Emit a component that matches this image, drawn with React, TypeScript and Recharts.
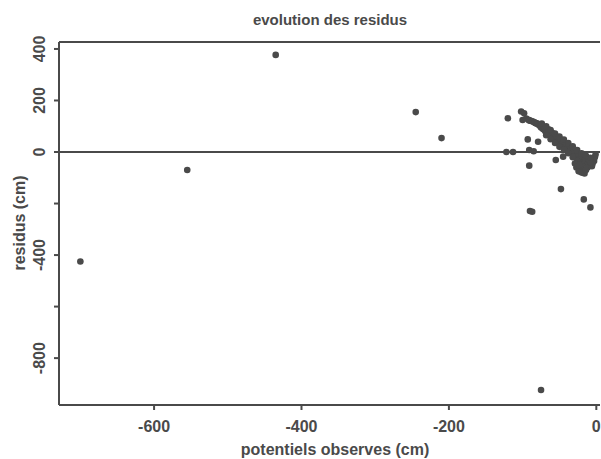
import React from 'react';
import {
  ScatterChart,
  Scatter,
  XAxis,
  YAxis,
  ReferenceLine,
} from 'recharts';

// observed potentials (cm)
const observed = [
  -700, -555, -435, -245, -210, -75, -90, -87,
  -122, -113, -91, -85, -120, -102, -98, -100, -91, -82, -93, -79,
  -91, -55, -45, -48, -17, -8,
  -95, -92, -90, -88, -86, -84, -82, -80, -78, -76, -75, -73, -72, -70, -69, -67, -66, -64,
  -63, -61, -60, -58, -57, -55, -54, -52, -51, -49, -48, -46, -45, -43, -42, -40, -39, -37,
  -36, -34, -33, -31, -30, -28, -27, -25, -24, -22, -21, -19, -18, -16, -14, -12, -10, -8,
  -6, -5, -3,
  -70, -65, -60, -55, -50, -45, -40, -35, -30, -25, -20, -15, -10,
  -68, -62, -56, -50, -44, -38, -32, -26, -20, -18, -16, -22, -12, -8, -4, -2, -1,
  -27, -24, -20, -14, -29, -23,
  -74, -68, -62, -56, -50, -44, -38, -32, -26, -20, -14, -8,
];

// residuals (cm)
const residuals = [
  -425, -70, 377, 155, 54, -924, -229, -232,
  0, 0, 8, 3, 131, 157, 150, 124, 122, 112, 49, 40,
  -53, -31, -18, -144, -184, -215,
  130, 125, 122, 120, 118, 115, 112, 110, 105, 100, 95, 92, 88, 85, 80, 78, 74, 70,
  66, 62, 60, 56, 52, 48, 44, 40, 36, 32, 30, 26, 22, 18, 15, 12, 8, 5,
  2, -2, -5, -8, -12, -15, -18, -22, -26, -30, -33, -36, -40, -42, -45, -48, -50, -52,
  -55, -45, -35,
  95, 88, 75, 62, 52, 40, 30, 18, 5, -5, -15, -25, -30,
  65, 50, 35, 20, 10, -5, -20, -35, -55, -70, -83, -65, -60, -40, -25, -20, -10,
  -60, -75, -80, -70, -45, -50,
  110, 100, 85, 72, 60, 48, 35, 22, 8, -5, -15, -22,
];

const xTicks = [-600, -400, -200, 0];
const yTicks = [400, 200, 0, -200, -400, -600, -800];
const yLabelled = [400, 200, 0, -400, -800];

const points = observed.map((x, i) => ({ x, y: residuals[i] }));

const ink = '#4a4a4a';
const font = '"Liberation Sans", Arial, sans-serif';

const YTick = (props: any) => {
  const { x, y, payload } = props;
  if (!yLabelled.includes(payload.value)) return null;
  const cx = x - 12;
  return (
    <text
      x={cx}
      y={y}
      transform={`rotate(-90, ${cx}, ${y})`}
      textAnchor="middle"
      dominantBaseline="central"
      fill={ink}
      fontSize={16}
      fontWeight="bold"
      fontFamily={font}
    >
      {payload.value}
    </text>
  );
};

const Dot = (props: any) => <circle cx={props.cx} cy={props.cy} r={3.3} fill={ink} />;

const App = () => {
  return (
    <div style={{ position: 'absolute', left: 0, top: 0, width: 601, height: 459, background: '#fff', fontFamily: font, color: ink }}>
      <div style={{ position: 'absolute', left: 0, width: 660, top: 11, textAlign: 'center', fontSize: 15, fontWeight: 'bold', lineHeight: '18px' }}>
        evolution des residus
      </div>
      <ScatterChart width={601} height={459} margin={{ top: 42, right: 1, bottom: 0, left: 0 }}>
        <XAxis
          type="number"
          dataKey="x"
          domain={[-729, 5]}
          ticks={xTicks}
          allowDataOverflow
          height={54}
          stroke={ink}
          strokeWidth={2}
          tickSize={5}
          tick={{ fill: ink, fontSize: 16, fontWeight: 'bold', fontFamily: font }}
          tickMargin={11}
        />
        <YAxis
          type="number"
          dataKey="y"
          domain={[-982, 427]}
          ticks={yTicks}
          allowDataOverflow
          width={59}
          stroke={ink}
          strokeWidth={2}
          tickSize={5}
          tick={<YTick />}
          tickMargin={2}
        />
        <ReferenceLine y={427} stroke={ink} strokeWidth={2} />
        <ReferenceLine y={0} stroke={ink} strokeWidth={2} />
        <Scatter data={points} shape={<Dot />} isAnimationActive={false} />
      </ScatterChart>
      <div style={{ position: 'absolute', left: 0, width: 670, top: 441, textAlign: 'center', fontSize: 16, fontWeight: 'bold', lineHeight: '18px' }}>
        potentiels observes (cm)
      </div>
      <div
        style={{
          position: 'absolute',
          left: 20,
          top: 223,
          transform: 'translate(-50%, -50%) rotate(-90deg)',
          fontSize: 16,
          fontWeight: 'bold',
          lineHeight: '18px',
          whiteSpace: 'nowrap',
        }}
      >
        residus (cm)
      </div>
    </div>
  );
};

export default App;
